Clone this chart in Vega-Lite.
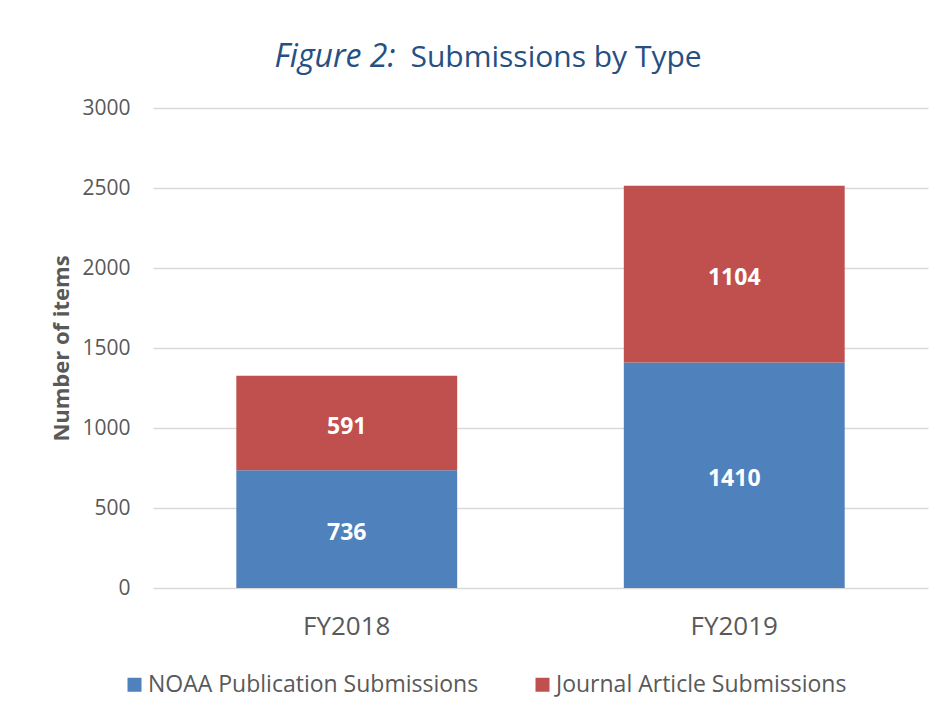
{
  "$schema": "https://vega.github.io/schema/vega-lite/v6.json",
  "autosize": {"type": "none"},
  "width": 775,
  "height": 480,
  "padding": {"left": 153, "top": 108, "right": 18, "bottom": 131},
  "background": "white",
  "data": {
    "values": [
      {"year": "FY2018", "series": "NOAA Publication Submissions", "value": 736},
      {"year": "FY2018", "series": "Journal Article Submissions", "value": 591},
      {"year": "FY2019", "series": "NOAA Publication Submissions", "value": 1410},
      {"year": "FY2019", "series": "Journal Article Submissions", "value": 1104}
    ]
  },
  "transform": [
    {"stack": "value", "groupby": ["year"], "sort": [{"field": "series", "order": "descending"}], "as": ["v0", "v1"]},
    {"calculate": "(datum.v0 + datum.v1) / 2", "as": "mid"}
  ],
  "layer": [
    {
      "mark": {"type": "bar"},
      "encoding": {
        "x": {
          "field": "year",
          "type": "nominal",
          "scale": {"paddingInner": 0.43, "paddingOuter": 0.215},
          "axis": {
            "title": null,
            "labelAngle": 0,
            "labelFont": "Open Sans",
            "labelFontSize": 26,
            "labelColor": "#595959",
            "labelPadding": 25,
            "ticks": false,
            "domain": false
          }
        },
        "y": {
          "field": "v0",
          "type": "quantitative",
          "scale": {"domain": [0, 3000], "nice": false},
          "axis": {
            "title": "Number of items",
            "titleFont": "Open Sans",
            "titleFontSize": 22,
            "titleFontWeight": "bold",
            "titleColor": "#595959",
            "titleAngle": -90,
            "titleBaseline": "alphabetic",
            "titleX": -85,
            "titleY": 240,
            "values": [0, 500, 1000, 1500, 2000, 2500, 3000],
            "format": "d",
            "labelFont": "Open Sans",
            "labelFontSize": 21,
            "labelColor": "#595959",
            "labelPadding": 23,
            "ticks": false,
            "domain": false,
            "grid": true,
            "gridColor": "#D9D9D9",
            "gridWidth": 1.5
          }
        },
        "y2": {"field": "v1"},
        "color": {
          "field": "series",
          "type": "nominal",
          "scale": {
            "domain": ["NOAA Publication Submissions", "Journal Article Submissions"],
            "range": ["#4F81BD", "#C0504D"]
          },
          "legend": {
            "title": null,
            "orient": "none",
            "legendX": -30,
            "legendY": 565,
            "direction": "horizontal",
            "columns": 2,
            "padding": 0,
            "symbolType": "square",
            "symbolSize": 196,
            "symbolStrokeWidth": 0,
            "symbolOpacity": 1,
            "labelFont": "Open Sans",
            "labelFontSize": 23,
            "labelColor": "#595959",
            "labelOffset": 2,
            "labelLimit": 600,
            "columnPadding": 52
          }
        }
      }
    },
    {
      "mark": {"type": "text", "font": "Open Sans", "fontSize": 23, "fontWeight": "bold", "color": "white", "baseline": "middle", "dy": 4},
      "encoding": {
        "x": {
          "field": "year",
          "type": "nominal",
          "axis": {
            "orient": "top",
            "title": "Submissions by Type",
            "titleFont": "Open Sans",
            "titleFontSize": 30,
            "titleFontWeight": "normal",
            "titleColor": "#264F82",
            "titleAlign": "left",
            "titleAnchor": "start",
            "titleAngle": 0,
            "titleBaseline": "alphabetic",
            "titleX": 257,
            "titleY": -42,
            "labels": false,
            "ticks": false,
            "domain": false,
            "grid": false
          }
        },
        "y": {
          "field": "mid",
          "type": "quantitative",
          "axis": {
            "orient": "right",
            "title": "Figure 2:",
            "titleFont": "Open Sans",
            "titleFontSize": 32,
            "titleFontWeight": "normal",
            "titleFontStyle": "italic",
            "titleColor": "#264F82",
            "titleAlign": "left",
            "titleAngle": 0,
            "titleBaseline": "alphabetic",
            "titleX": -654,
            "titleY": -42,
            "labels": false,
            "ticks": false,
            "domain": false,
            "grid": false
          }
        },
        "text": {"field": "value", "type": "quantitative"}
      }
    }
  ],
  "resolve": {"axis": {"x": "independent", "y": "independent"}},
  "config": {
    "view": {"stroke": null}
  }
}
